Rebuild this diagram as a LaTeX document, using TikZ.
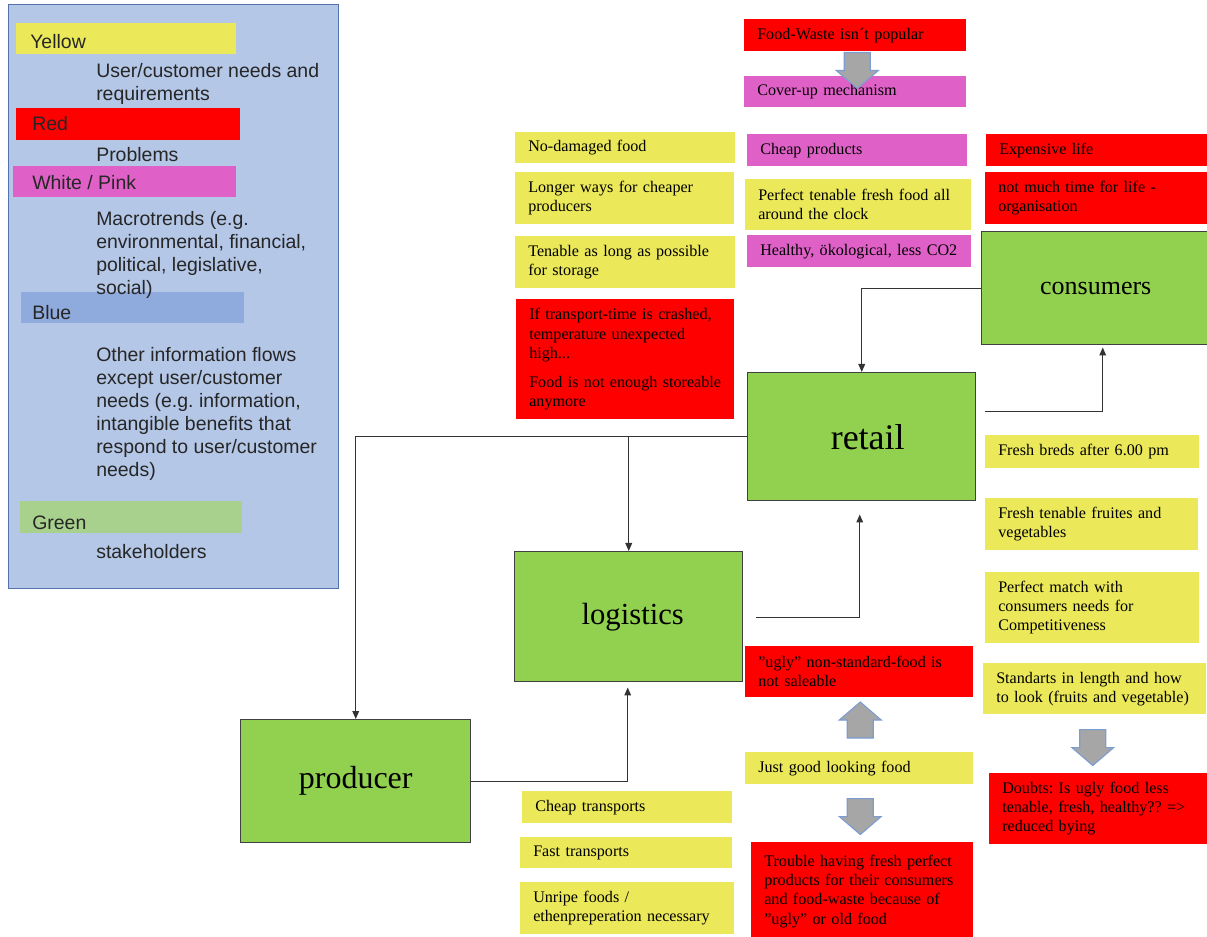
\documentclass[tikz,border=0pt]{standalone}
\usepackage{fontspec}
\setmainfont{Liberation Serif}
\setsansfont{Liberation Sans}
\usetikzlibrary{arrows.meta,calc}
\frenchspacing

\definecolor{needyellow}{RGB}{235,232,90}
\definecolor{problemred}{RGB}{255,0,0}
\definecolor{trendpink}{RGB}{223,96,199}
\definecolor{actorgreen}{RGB}{146,208,80}
\definecolor{legendblue}{RGB}{180,199,231}
\definecolor{legendedge}{RGB}{84,114,174}
\definecolor{infoblue}{RGB}{143,170,220}
\definecolor{holdergreen}{RGB}{169,209,142}
\definecolor{arrowgray}{RGB}{166,166,166}
\definecolor{arrowblue}{RGB}{124,156,210}

\begin{document}
\begin{tikzpicture}[x=0.75pt, y=-0.75pt,
    >={Triangle[length=6pt, width=5pt]},
    note/.style 2 args={rectangle, anchor=north west, inner xsep=0pt, inner ysep=0pt,
        minimum width=#1*0.75pt, minimum height=#2*0.75pt, text width=#1*0.75pt,
        align=left, execute at begin node={\leftskip=9.75pt\hyphenpenalty=10000},
        font=\fontsize{12.1}{14.4}\selectfont},
    need/.style 2 args={note={#1}{#2}, fill=needyellow},
    problem/.style 2 args={note={#1}{#2}, fill=problemred},
    trend/.style 2 args={note={#1}{#2}, fill=trendpink},
    actor/.style 2 args={rectangle, anchor=north west, draw=black!75, line width=1.1pt,
        fill=actorgreen, minimum width=#1*0.75pt, minimum height=#2*0.75pt},
    band/.style n args={3}{rectangle, anchor=north west, fill=#3, inner sep=0pt,
        minimum width=#1*0.75pt, minimum height=#2*0.75pt},
    legendtext/.style={anchor=north west, inner sep=0pt, align=left,
        font=\sffamily\fontsize{14.6}{17.25}\selectfont, text=black!85},
    flow/.style={->, line width=0.9pt, draw=black!80},
    blockpfeil/.pic={\draw[fill=arrowgray, draw=arrowblue, line width=0.8pt]
        (-13,0) -- (13,0) -- (13,18) -- (21,18) -- (0,36) -- (-21,18) -- (-13,18) -- cycle;}
]
    \useasboundingbox (0,0) rectangle (1207,937);

    % Legende
    \node[rectangle, anchor=north west, fill=legendblue, draw=legendedge, line width=0.9pt,
        minimum width=330*0.75pt, minimum height=584*0.75pt] (legend) at (8,4) {};
    \node[band={220}{31}{needyellow}] (lyellow) at (16,23) {};
    \node[band={224}{32}{problemred}] (lred) at (16,108) {};
    \node[band={223}{31}{trendpink}] (lpink) at (13,166) {};
    \node[band={223}{31}{infoblue}] (lblue) at (21,292) {};
    \node[band={222}{32}{holdergreen}] (lgreen) at (20,501) {};
    \node[legendtext, anchor=west] (tyellow) at (30,42) {Yellow};
    \node[legendtext, anchor=west] (tred) at (32,124) {Red};
    \node[legendtext, anchor=west] (tpink) at (32,183) {White / Pink};
    \node[legendtext, anchor=west] (tblue) at (32,313) {Blue};
    \node[legendtext, anchor=west] (tgreen) at (32,523) {Green};
    \node[legendtext] (lneeds) at (96,63) {User/customer needs and\\requirements};
    \node[legendtext] (lproblems) at (96,147) {Problems};
    \node[legendtext] (ltrends) at (96,211) {Macrotrends (e.g.\\environmental, financial,\\political,  legislative,\\social)};
    \node[legendtext] (linfo) at (96,347) {Other information  flows\\except user/customer\\needs (e.g. information,\\intangible  benefits that\\respond to user/customer\\needs)};
    \node[legendtext] (lholders) at (96,544) {stakeholders};

    % Akteure
    \node[actor={228}{113}] (consumers) at (981,231) {};
    \node[font=\fontsize{19.5}{22}\selectfont] at (consumers.center) {consumers};
    \node[actor={228}{128}] (retail) at (747,372) {};
    \node[font=\fontsize{27}{30}\selectfont] at ($(retail.center)+(6,0)$) {retail};
    \node[actor={228}{130}] (logistics) at (514,551) {};
    \node[font=\fontsize{23}{26}\selectfont] at ($(logistics.center)+(4,0)$) {logistics};
    \node[actor={230}{123}] (producer) at (240,719) {};
    \node[font=\fontsize{24}{27}\selectfont] at (producer.center) {producer};

    % Verbindungen
    \draw[flow] (consumers.west) -| (retail.north);
    \draw[flow] ($(retail.east)+(9,-25)$) -| ($(consumers.south)+(7,2)$);
    \draw[flow] (retail.west) -| (producer.north);
    \draw[flow] (logistics.north |- retail.west) -- (logistics.north);
    \draw[flow] ($(logistics.east)+(13,1)$) -| ($(retail.south)+(-2,13)$);
    \draw[flow] (producer.east) -| ($(logistics.south)+(-1,5)$);

    % Notizen oben
    \node[problem={222}{32}] (waste) at (744,19) {Food-Waste isn´t popular};
    \node[trend={222}{31}] (coverup) at (744,76) {Cover-up mechanism};
    \node[trend={220}{32}] (cheap) at (747,134) {Cheap products};
    \node[need={226}{51}] (clock) at (745,179) {Perfect tenable  fresh food all\\around the clock};
    \node[trend={224}{32}] (healthy) at (747,235) {Healthy, ökological,  less CO2};
    \node[need={220}{31}] (nodamage) at (515,132) {No-damaged  food};
    \node[need={219}{52}] (longer) at (515,172) {Longer  ways for cheaper\\producers};
    \node[need={220}{52}] (storage) at (515,236) {Tenable as long as possible\\for storage};
    \node[problem={218}{120}] (transport) at (516,299) {If transport-time is crashed,\\temperature unexpected\\high...\\[7.5pt]Food is not enough  storeable\\anymore};
    \node[problem={221}{32}] (expensive) at (986,134) {Expensive life};
    \node[problem={222}{52}] (notime) at (985,172) {not much  time for  life  -\\organisation};

    % Notizen unten
    \node[need={214}{33}] (breads) at (985,435) {Fresh breds after 6.00 pm};
    \node[need={213}{52}] (fruits) at (985,498) {Fresh tenable fruites and\\vegetables};
    \node[need={214}{71}] (match) at (985,572) {Perfect match with\\consumers needs for\\Competitiveness};
    \node[need={223}{51}] (standards) at (983,663) {Standarts in length and how\\to look (fruits and vegetable)};
    \node[problem={218}{71}] (doubts) at (989,773) {Doubts: Is ugly food less\\tenable,  fresh, healthy?? =>\\reduced bying};
    \node[problem={228}{51}] (ugly) at (745,646) {"ugly'' non-standard-food is\\not saleable};
    \node[need={228}{32}] (goodlooking) at (745,752) {Just good looking food};
    \node[problem={222}{98}] (trouble) at (751,842) {Trouble having  fresh perfect\\products for their consumers\\and food-waste because of\\"ugly''  or old food};
    \node[need={210}{32}] (cheaptransport) at (522,791) {Cheap transports};
    \node[need={212}{31}] (fasttransport) at (520,837) {Fast transports};
    \node[need={214}{52}] (unripe) at (520,882) {Unripe foods /\\ethenpreperation necessary};

    % Blockpfeile
    \pic at ($(waste.south)+(2,1)$) {blockpfeil};
    \pic[yscale=-1] at ($(goodlooking.north)+(1,-14)$) {blockpfeil};
    \pic at ($(goodlooking.south)+(1,14)$) {blockpfeil};
    \pic at ($(standards.south)+(-2,15)$) {blockpfeil};
\end{tikzpicture}
\end{document}
